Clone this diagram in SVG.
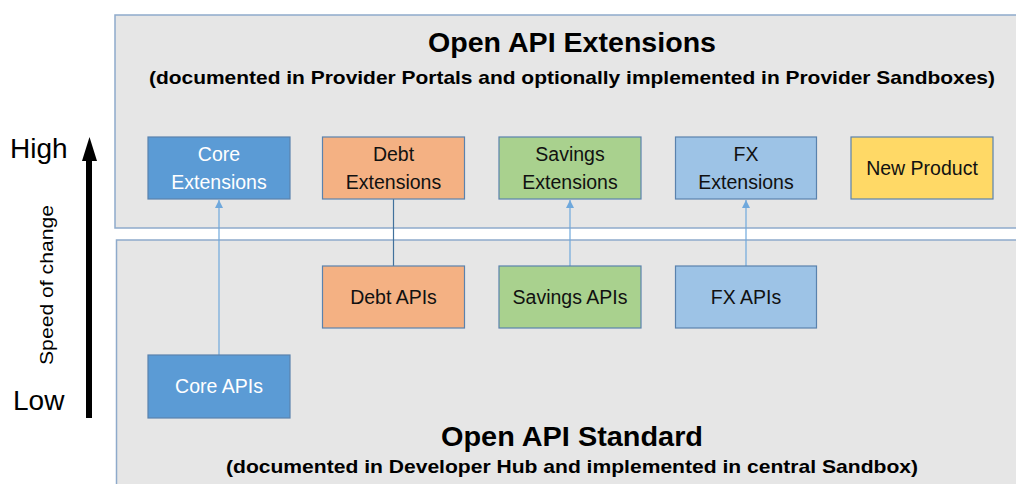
<svg xmlns="http://www.w3.org/2000/svg" width="1016" height="484" viewBox="0 0 1016 484">
<style>
.panel{fill:#e6e6e6;stroke:#8eaacb;stroke-width:1.5}
.box{stroke:#5a82ad;stroke-width:1.2}
.t{font-family:"Liberation Sans",Arial,sans-serif;font-size:19.5px;text-anchor:middle;fill:#111}
.w{fill:#fff}
.h{font-family:"Liberation Sans",Arial,sans-serif;font-weight:bold;text-anchor:middle;fill:#000}
.ax{font-family:"Liberation Sans",Arial,sans-serif;fill:#000}
.c{stroke:#6fa8dc;stroke-width:1.2;fill:none}
</style>
<defs>
<marker id="ah" viewBox="0 0 10 10" refX="10" refY="5" markerWidth="8" markerHeight="8" markerUnits="userSpaceOnUse" orient="auto">
<path d="M0,0 L10,5 L0,10 z" fill="#6fa8dc"/>
</marker>
</defs>
<rect width="1016" height="484" fill="#fff"/>
<g id="panel-extensions">
<rect class="panel" x="115" y="15" width="910" height="213"/>
<text class="h" x="572" y="52" font-size="27" textLength="288" lengthAdjust="spacingAndGlyphs">Open API Extensions</text>
<text class="h" x="572" y="84" font-size="19" textLength="846" lengthAdjust="spacingAndGlyphs">(documented in Provider Portals and optionally implemented in Provider Sandboxes)</text>
</g>
<g id="panel-standard">
<rect class="panel" x="116.5" y="240" width="910" height="260"/>
<text class="h" x="572" y="446" font-size="27" textLength="262" lengthAdjust="spacingAndGlyphs">Open API Standard</text>
<text class="h" x="572" y="473" font-size="19" textLength="692" lengthAdjust="spacingAndGlyphs">(documented in Developer Hub and implemented in central Sandbox)</text>
</g>
<g id="axis">
<line x1="89" y1="155" x2="89" y2="418" stroke="#000" stroke-width="6"/>
<path d="M82,161 L89.5,137 L97,161 z" fill="#000"/>
<text class="ax" x="10" y="158" font-size="28">High</text>
<text class="ax" x="13" y="410" font-size="28">Low</text>
<text class="ax" font-size="19" text-anchor="middle" textLength="160" lengthAdjust="spacingAndGlyphs" transform="translate(53,285) rotate(-90)">Speed of change</text>
</g>
<g id="connectors">
<line class="c" x1="219" y1="355" x2="219" y2="200" marker-end="url(#ah)"/>
<line x1="393.5" y1="199" x2="393.5" y2="266" stroke="#41719c" stroke-width="1.2"/>
<line class="c" x1="570" y1="266" x2="570" y2="200" marker-end="url(#ah)"/>
<line class="c" x1="746" y1="266" x2="746" y2="200" marker-end="url(#ah)"/>
</g>
<g id="core-extensions">
<rect class="box" x="148" y="137" width="142" height="62" fill="#5b9bd5"/>
<text class="t w" x="219" y="161">Core</text>
<text class="t w" x="219" y="189">Extensions</text>
</g>
<g id="debt-extensions">
<rect class="box" x="322.5" y="137" width="142" height="62" fill="#f4b183"/>
<text class="t" x="393.5" y="161">Debt</text>
<text class="t" x="393.5" y="189">Extensions</text>
</g>
<g id="savings-extensions">
<rect class="box" x="499" y="137" width="142" height="62" fill="#a9d18e"/>
<text class="t" x="570" y="161">Savings</text>
<text class="t" x="570" y="189">Extensions</text>
</g>
<g id="fx-extensions">
<rect class="box" x="675.5" y="137" width="141" height="62" fill="#9dc3e6"/>
<text class="t" x="746" y="161">FX</text>
<text class="t" x="746" y="189">Extensions</text>
</g>
<g id="new-product">
<rect class="box" x="851" y="137" width="142" height="62" fill="#ffd966"/>
<text class="t" x="922" y="175">New Product</text>
</g>
<g id="debt-apis">
<rect class="box" x="322.5" y="266" width="142" height="62" fill="#f4b183"/>
<text class="t" x="393.5" y="304">Debt APIs</text>
</g>
<g id="savings-apis">
<rect class="box" x="499" y="266" width="142" height="62" fill="#a9d18e"/>
<text class="t" x="570" y="304">Savings APIs</text>
</g>
<g id="fx-apis">
<rect class="box" x="675.5" y="266" width="141" height="62" fill="#9dc3e6"/>
<text class="t" x="746" y="304">FX APIs</text>
</g>
<g id="core-apis">
<rect class="box" x="148" y="355" width="142" height="63" fill="#5b9bd5"/>
<text class="t w" x="219" y="393">Core APIs</text>
</g>
</svg>
